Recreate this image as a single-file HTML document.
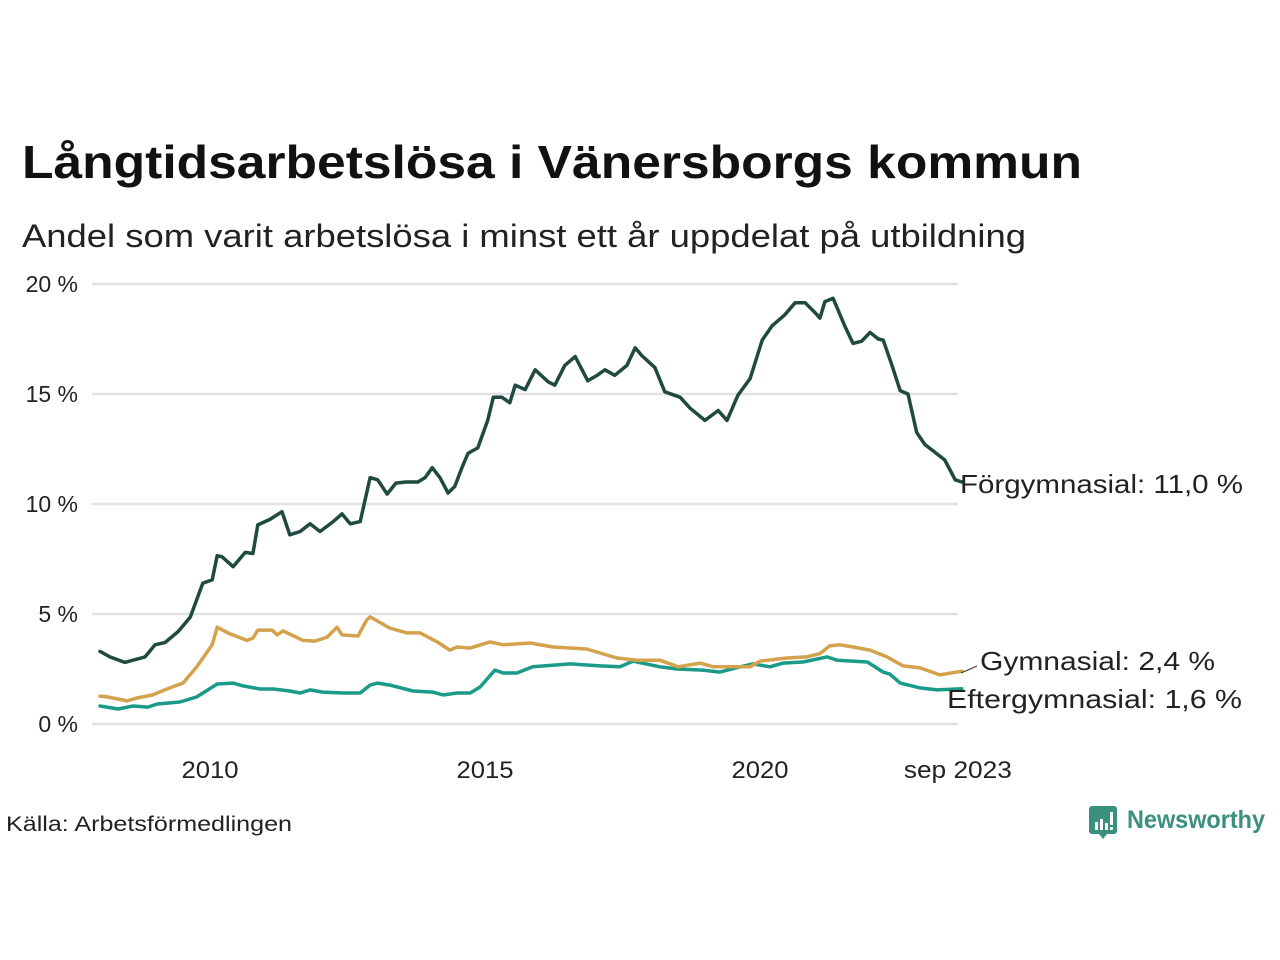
<!DOCTYPE html>
<html><head><meta charset="utf-8"><style>
html,body{margin:0;padding:0;background:#fff;}
svg{display:block;font-family:"Liberation Sans",sans-serif;}
</style></head><body>
<svg id="chart" width="1280" height="960" viewBox="0 0 1280 960">
<text x="22" y="178" font-size="46" font-weight="bold" fill="#111" textLength="1060" lengthAdjust="spacingAndGlyphs">Långtidsarbetslösa i Vänersborgs kommun</text>
<text x="22" y="247" font-size="32" fill="#222" textLength="1004" lengthAdjust="spacingAndGlyphs">Andel som varit arbetslösa i minst ett år uppdelat på utbildning</text>
<g id="grid"></g>
<g id="yticks"></g>
<g id="xticks"></g>
<g id="lines"></g>
<text x="960" y="493" font-size="26" fill="#222" textLength="283" lengthAdjust="spacingAndGlyphs">Förgymnasial: 11,0 %</text>
<line x1="961" y1="673" x2="977" y2="666" stroke="#333" stroke-width="1"/>
<text x="980" y="670" font-size="26" fill="#222" textLength="235" lengthAdjust="spacingAndGlyphs">Gymnasial:  2,4 %</text>
<text x="947" y="708" font-size="26" fill="#222" textLength="295" lengthAdjust="spacingAndGlyphs">Eftergymnasial:  1,6 %</text>
<text x="6" y="831" font-size="21" fill="#222" textLength="286" lengthAdjust="spacingAndGlyphs">Källa: Arbetsförmedlingen</text>
<g>
<path d="M1092,806 h22 a3,3 0 0 1 3,3 v22 a3,3 0 0 1 -3,3 h-7 l-4,5 l-4,-5 h-7 a3,3 0 0 1 -3,-3 v-22 a3,3 0 0 1 3,-3z" fill="#3a8f7f"/>
<rect x="1095" y="822" width="3" height="8" fill="#fff"/><rect x="1100" y="819" width="3" height="11" fill="#fff"/><rect x="1105" y="823" width="3" height="7" fill="#fff"/><rect x="1110" y="812" width="3" height="13" fill="#fff"/><rect x="1110" y="827" width="3" height="3" fill="#fff"/>
<text x="1127" y="828" font-size="25" font-weight="bold" fill="#3a8f7f" textLength="138" lengthAdjust="spacingAndGlyphs">Newsworthy</text>
</g>
</svg>
<script>
const yTicks=[0,5,10,15,20];
const yTickLabels=["0 %","5 %","10 %","15 %","20 %"];
const xTicks=[2010,2015,2020,2023.67];
const xTickLabels=["2010","2015","2020","sep 2023"];
const forgDates=[2008.0,2008.18,2008.45,2008.82,2009.0,2009.18,2009.42,2009.64,2009.87,2010.04,2010.13,2010.22,2010.42,2010.64,2010.78,2010.87,2011.09,2011.31,2011.45,2011.64,2011.82,2012.0,2012.24,2012.4,2012.55,2012.73,2012.91,2013.05,2013.22,2013.38,2013.56,2013.78,2013.91,2014.04,2014.18,2014.33,2014.45,2014.58,2014.69,2014.87,2015.05,2015.15,2015.31,2015.45,2015.55,2015.73,2015.91,2016.15,2016.27,2016.45,2016.64,2016.87,2017.04,2017.18,2017.36,2017.58,2017.73,2017.85,2018.09,2018.27,2018.55,2018.73,2019.0,2019.24,2019.4,2019.6,2019.82,2020.04,2020.22,2020.45,2020.64,2020.82,2021.0,2021.09,2021.18,2021.33,2021.55,2021.69,2021.85,2022.0,2022.15,2022.24,2022.4,2022.55,2022.69,2022.85,2023.0,2023.18,2023.36,2023.55,2023.67];
const forgValues=[3.3,3.05,2.8,3.05,3.6,3.7,4.2,4.85,6.4,6.55,7.65,7.6,7.15,7.8,7.75,9.05,9.3,9.65,8.6,8.75,9.1,8.75,9.2,9.55,9.1,9.2,11.2,11.1,10.45,10.95,11.0,11.0,11.2,11.65,11.2,10.5,10.8,11.65,12.3,12.55,13.8,14.85,14.85,14.6,15.4,15.2,16.1,15.55,15.4,16.3,16.7,15.6,15.85,16.1,15.85,16.3,17.1,16.75,16.2,15.1,14.85,14.35,13.8,14.25,13.8,14.95,15.7,17.45,18.1,18.6,19.15,19.15,18.7,18.45,19.2,19.35,18.05,17.3,17.4,17.8,17.5,17.45,16.3,15.15,15.0,13.25,12.7,12.35,12.0,11.1,11.0];
const gymDates=[2008.0,2008.13,2008.49,2008.67,2008.95,2009.27,2009.51,2009.76,2010.04,2010.13,2010.36,2010.67,2010.78,2010.87,2011.13,2011.22,2011.33,2011.69,2011.91,2012.13,2012.31,2012.4,2012.69,2012.85,2012.91,2013.27,2013.58,2013.82,2014.13,2014.36,2014.49,2014.73,2015.09,2015.33,2015.82,2016.24,2016.85,2017.4,2017.76,2018.18,2018.51,2018.91,2019.15,2019.51,2019.82,2020.0,2020.49,2020.85,2021.09,2021.27,2021.45,2021.69,2022.0,2022.31,2022.6,2022.91,2023.27,2023.67];
const gymValues=[1.27,1.23,1.05,1.18,1.32,1.64,1.86,2.6,3.6,4.4,4.1,3.8,3.9,4.27,4.27,4.05,4.23,3.8,3.77,3.95,4.4,4.05,4.0,4.73,4.87,4.36,4.14,4.14,3.73,3.36,3.5,3.45,3.73,3.6,3.68,3.5,3.41,3.0,2.9,2.9,2.6,2.77,2.6,2.6,2.6,2.86,3.0,3.05,3.2,3.55,3.6,3.5,3.36,3.05,2.64,2.55,2.23,2.4];
const eftDates=[2008.0,2008.33,2008.6,2008.87,2009.04,2009.45,2009.76,2010.13,2010.42,2010.6,2010.91,2011.15,2011.45,2011.64,2011.82,2012.05,2012.42,2012.73,2012.91,2013.05,2013.27,2013.69,2014.05,2014.24,2014.49,2014.73,2014.91,2015.18,2015.33,2015.58,2015.87,2016.55,2017.09,2017.45,2017.69,2018.18,2018.49,2018.96,2019.27,2019.64,2019.87,2020.18,2020.42,2020.78,2021.22,2021.4,2021.95,2022.24,2022.36,2022.55,2022.91,2023.22,2023.67];
const eftValues=[0.82,0.68,0.82,0.77,0.91,1.0,1.23,1.82,1.86,1.73,1.59,1.59,1.5,1.41,1.55,1.45,1.41,1.41,1.77,1.86,1.77,1.5,1.45,1.32,1.41,1.41,1.68,2.45,2.32,2.32,2.6,2.73,2.64,2.6,2.86,2.6,2.5,2.45,2.36,2.6,2.73,2.6,2.77,2.82,3.05,2.9,2.82,2.36,2.27,1.86,1.64,1.55,1.6];

const NS='http://www.w3.org/2000/svg';
function xScale(t){return 100+(t-2008)*55;}
function yScale(v){return 724-v*22;}
function mk(tag,attrs,parent){const e=document.createElementNS(NS,tag);for(const k in attrs)e.setAttribute(k,attrs[k]);parent.appendChild(e);return e;}
const grid=document.getElementById('grid'),yt=document.getElementById('yticks'),xt=document.getElementById('xticks'),lines=document.getElementById('lines');
yTicks.forEach((v,i)=>{
  const l=mk('line',{x1:92,x2:958,y1:yScale(v),y2:yScale(v),stroke:'#e2e2e6','stroke-width':2.5},grid);
  
  
  const t=mk('text',{x:78,y:yScale(v)+8,'font-size':23,fill:'#222','text-anchor':'end'},yt);
  t.textContent=yTickLabels[i];
  
  
});
xTicks.forEach((v,i)=>{
  const t=mk('text',{x:i===3?xScale(v)-4:xScale(v),y:778,'font-size':24,fill:'#222','text-anchor':'middle'},xt);
  if(i<3){t.setAttribute('textLength',57);t.setAttribute('lengthAdjust','spacingAndGlyphs');}
  else{t.setAttribute('textLength',108);t.setAttribute('lengthAdjust','spacingAndGlyphs');}
  t.textContent=xTickLabels[i];
  
  
});
function drawLine(dates,vals,color,name){
  const d=dates.map((t,i)=>(i?'L':'M')+xScale(t).toFixed(1)+','+yScale(vals[i]).toFixed(1)).join(' ');
  const p=mk('path',{d:d,fill:'none',stroke:color,'stroke-width':3.5,'stroke-linejoin':'round','stroke-linecap':'round'},lines);
  
  
}
drawLine(eftDates,eftValues,'#1a9a88','line-eftergymnasial');
drawLine(gymDates,gymValues,'#d4a24c','line-gymnasial');
drawLine(forgDates,forgValues,'#1f4a40','line-forgymnasial');
</script>
</body></html>
